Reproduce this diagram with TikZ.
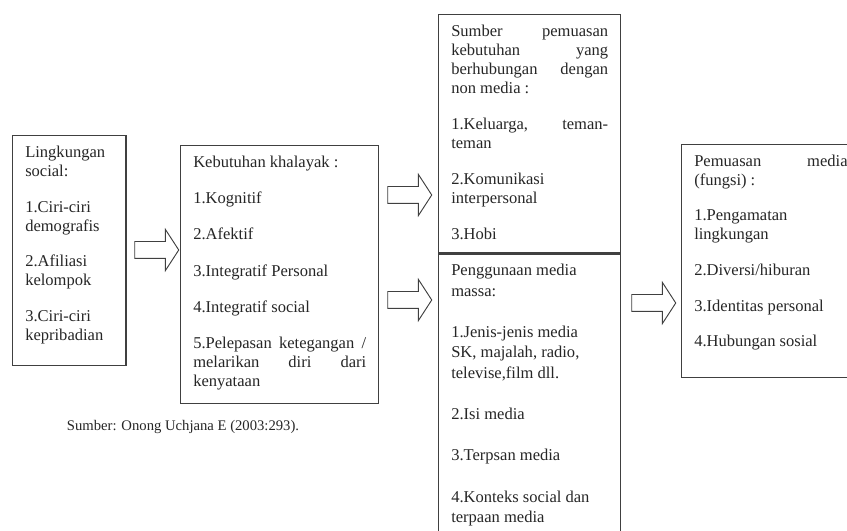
\documentclass[tikz,border=0pt]{standalone}
\usepackage{fontspec}
\setmainfont{Liberation Serif}
\usetikzlibrary{positioning,shapes.arrows}

\begin{document}
\begin{tikzpicture}[x=0.75pt, y=-0.75pt,
  kotak/.style={draw=black!75, line width=1.1pt, inner xsep=9.4pt, inner ysep=7.5pt,
    anchor=north west, font=\fontsize{12.4}{14.25}\selectfont, text=black!85},
  panah/.style={single arrow, draw=black!75, line width=0.7pt, fill=white, inner xsep=0pt, inner ysep=6pt,
    minimum height=33pt, single arrow head extend=9pt, single arrow tip angle=114}]
  \useasboundingbox (0,0) rectangle (847,531);
  \clip (0,0) rectangle (847,531);
  \fill[white] (0,0) rectangle (847,531);

  \node[kotak] (env) at (12,135) {\parbox[t][157.5pt][t]{66pt}{%
    Lingkungan\\social:\\[12.6pt]1.Ciri-ciri\\demografis\\[12.6pt]2.Afiliasi\\kelompok\\[12.6pt]3.Ciri-ciri\\kepribadian}};

  \node[kotak] (need) at (180,145) {\parbox[t][178.5pt][t]{129.7pt}{%
    Kebutuhan khalayak :\\[13pt]1.Kognitif\\[13pt]2.Afektif\\[13pt]3.Integratif Personal\\[13pt]4.Integratif social\\[13pt]%
    5.Pelepasan\hfill ketegangan\hfill /\\melarikan\hfill diri\hfill dari\\kenyataan}};

  \node[kotak] (nonmedia) at (438,14) {\parbox[t][163.5pt][t]{117.7pt}{%
    Sumber\hfill pemuasan\\kebutuhan\hfill yang\\berhubungan\hfill dengan\\non media :\\[12.75pt]%
    1.Keluarga,\hfill teman-\\teman\\[12.75pt]2.Komunikasi\\interpersonal\\[12.75pt]3.Hobi}};

  \node[kotak, font=\fontsize{12.4}{15.4}\selectfont, below=0pt of nonmedia] (media) {\parbox[t][206.25pt][t]{117.7pt}{%
    Penggunaan media\\massa:\\[15.5pt]1.Jenis-jenis media\\SK, majalah, radio,\\televise,film dll.\\[15.5pt]%
    2.Isi media\\[15.5pt]3.Terpsan media\\[15.5pt]4.Konteks social dan\\terpaan media}};

  \node[kotak] (gratif) at (681,144) {\parbox[t][159.75pt][t]{115pt}{%
    Pemuasan\hfill media\\(fungsi) :\\[12.5pt]1.Pengamatan\\lingkungan\\[12.5pt]2.Diversi/hiburan\\[12.5pt]%
    3.Identitas personal\\[12.5pt]4.Hubungan sosial}};

  \node[panah] (a1) at (154,250) {};
  \node[panah] (a2) at (407,195) {};
  \node[panah] (a3) at (407,300) {};
  \node[panah] (a4) at (651,303) {};

  \node[font=\fontsize{11}{13}\selectfont, text=black!85] (src) at (183,427) {Sumber: Onong Uchjana E (2003:293).};
\end{tikzpicture}
\end{document}
